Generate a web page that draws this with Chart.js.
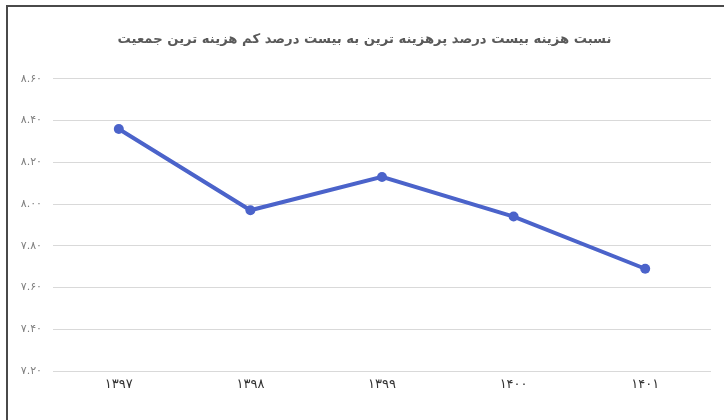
<!DOCTYPE html>
<html>
<head>
<meta charset="utf-8">
<script src="https://cdn.jsdelivr.net/npm/chart.js@4"></script>
<style>
  html, body { margin: 0; padding: 0; background: #fff; overflow: hidden; }
  #wrap { position: relative; width: 724px; height: 420px; }
  #frame {
    position: absolute; left: 6px; top: 5px; width: 740px; height: 440px;
    border: 2px solid #4a4a4a; box-sizing: border-box;
  }
  canvas { position: absolute; left: 0; top: 0; }
</style>
</head>
<body>
<div id="wrap">
  <div id="frame"></div>
  <canvas id="chart" width="724" height="420"></canvas>
</div>
<script>
// Data
const categories = ['۱۳۹۷', '۱۳۹۸', '۱۳۹۹', '۱۴۰۰', '۱۴۰۱'];
const ratioValues = [8.36, 7.97, 8.13, 7.94, 7.69];
const yMin = 7.2;
const yMax = 8.6;
const yStep = 0.2;
const chartTitle = 'نسبت هزینه بیست درصد پرهزینه ترین به بیست درصد کم هزینه ترین جمعیت';

const persianDigits = ['۰', '۱', '۲', '۳', '۴', '۵', '۶', '۷', '۸', '۹'];

// Convert latin digits to persian digits
function toPersian(str) {
    return String(str).replace(/[0-9]/g, d => persianDigits[+d]);
}

const ctx = document.getElementById('chart').getContext('2d');

new Chart(ctx, {
    type: 'line',
    data: {
        labels: categories,
        datasets: [
            {
                data: ratioValues,
                borderColor: '#4b63ca',
                backgroundColor: '#4b63ca',
                borderWidth: 4,
                pointRadius: 5,
                pointHoverRadius: 5,
                pointBackgroundColor: '#4b63ca',
                pointBorderWidth: 0,
                tension: 0
            }
        ]
    },
    options: {
        responsive: false,
        animation: false,
        // a bit more padding on the left so the title centre moves right
        layout: {
            padding: { left: 18, right: 13, top: 0, bottom: 0 }
        },
        plugins: {
            legend: { display: false },
            tooltip: { enabled: false },
            title: {
                display: true,
                text: chartTitle,
                color: '#595959',
                font: { family: 'DejaVu Sans', size: 13.2, weight: 'bold', lineHeight: 1.2 },
                padding: { top: 32, bottom: 31 }
            }
        },
        scales: {
            x: {
                offset: true,
                grid: { display: false, drawTicks: false },
                border: { display: false },
                ticks: {
                    color: '#333333',
                    font: { family: 'DejaVu Sans', size: 13 },
                    padding: 6
                },
                afterFit: (scale) => { scale.height = 49; }
            },
            y: {
                min: yMin,
                max: yMax,
                grid: { color: '#d9d9d9', lineWidth: 1, drawTicks: false },
                border: { display: false },
                ticks: {
                    stepSize: yStep,
                    color: '#7f7f7f',
                    font: { family: 'DejaVu Sans', size: 11 },
                    padding: 11,
                    callback: (value) => toPersian(Number(value).toFixed(2))
                },
                afterFit: (scale) => { scale.width = 35; }
            }
        }
    }
});
</script>
</body>
</html>
